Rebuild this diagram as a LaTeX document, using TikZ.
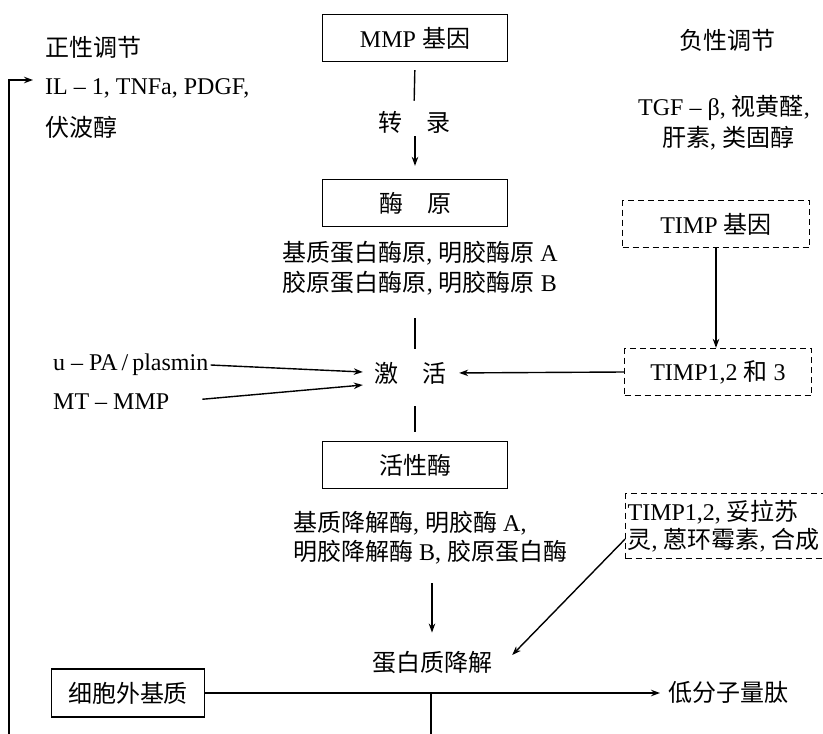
\documentclass[tikz,border=0pt]{standalone}
\usepackage{fontspec}
\setmainfont{Liberation Serif}
\newfontfamily\cjk{Noto Sans CJK SC}
\newcommand\zh[1]{{\cjk #1}}
\newcommand\dou{\makebox[.5em][l]{,}}
\usetikzlibrary{arrows.meta}
\tikzset{
 lbl/.style={font=\fontsize{24}{28}\selectfont, inner sep=2pt},
 mbox/.style={lbl, draw, line width=1.3pt, minimum width=185pt, minimum height=47pt, inner sep=0pt},
 dbox/.style={lbl, draw, line width=1.3pt, dash pattern=on 6pt off 4pt, minimum width=187pt, minimum height=47pt, inner sep=0pt},
 link/.style={line width=1.4pt}
}

\begin{document}
\begin{tikzpicture}[x=1pt,y=-1pt,>={Stealth[length=9pt,width=6.5pt]}]
\useasboundingbox (0,0) rectangle (823,734);

\node (zheng) [lbl, anchor=west] at (43,47) {\zh{正性调节}};
\node (zA) [lbl, anchor=west] at (43,88) {IL – 1, TNFa, PDGF,};
\node (zB) [lbl, anchor=west] at (43,127) {\zh{伏波醇}};

\node (fu) [lbl] at (727,40) {\zh{负性调节}};
\node (fA) [lbl] at (727,108) {TGF – β\dou\zh{视黄醛}\dou};
\node (fB) [lbl] at (728,138) {\zh{肝素}\dou\zh{类固醇}};

\node (mmp) [mbox] at (415,38) {MMP \zh{基因}};
\node (zl) [lbl] at (414,122) {\zh{转\hspace{1em}录}};
\node (yuan) [mbox] at (415,203) {\zh{酶\hspace{1em}原}};
\node (yA) [lbl] at (420,253) {\zh{基质蛋白酶原}\dou\zh{明胶酶原} A};
\node (yB) [lbl] at (420,283) {\zh{胶原蛋白酶原}\dou\zh{明胶酶原} B};

\node (jh) [lbl] at (410,373) {\zh{激\hspace{1em}活}};
\node (upa) [lbl, anchor=west] at (51,365) {u – PA\,/\,plasmin};
\node (mt) [lbl, anchor=west] at (51,402) {MT – MMP};

\node (tg) [dbox] at (716,224) {TIMP \zh{基因}};
\node (t123) [dbox] at (718,372) {TIMP1,2 \zh{和} 3};

\node (act) [mbox] at (415,465) {\zh{活性酶}};
\node (dA) [lbl, anchor=west] at (291,523) {\zh{基质降解酶}\dou\zh{明胶酶} A,};
\node (dB) [lbl, anchor=west] at (291,552) {\zh{明胶降解酶} B\dou\zh{胶原蛋白酶}};

\node (inh) [dbox, anchor=north west, minimum width=0pt, minimum height=65pt, text width=204pt, align=left, inner xsep=2pt] at (625,493) {TIMP1,2\dou\zh{妥拉苏}\\\zh{灵}\dou\zh{蒽环霉素}\dou\zh{合成}};

\node (dbj) [lbl] at (432,662) {\zh{蛋白质降解}};
\node (ecm) [mbox, minimum width=153pt, minimum height=48pt] at (128,693) {\zh{细胞外基质}};
\node (low) [lbl, anchor=west] at (666,692) {\zh{低分子量肽}};

\coordinate (lb) at (9,734);
\coordinate (bot) at (431,734);

\draw 
[link, shorten <=8pt, shorten >=8pt] 
(mmp.south) -- (zl.north);
\draw 
[link, ->, shorten <=1pt, shorten >=13pt] 
(zl.south -| mmp.south) -- (yuan.north);
\draw 
[link, shorten <=21pt, shorten >=11pt] 
(yB.south -| mmp.south) -- (jh.north -| mmp.south);
\draw 
[link, shorten <=20pt, shorten >=9pt] 
(jh.south -| act.north) -- (act.north);

\draw [link, ->] (tg.south) -- (tg.south |- t123.north);
\draw [link, ->, shorten >=11pt] (t123.west) -- (jh.east);
\draw [link, ->] (upa.east) -- ([xshift=-9pt,yshift=1pt]jh.west);
\draw [link, ->, shorten <=31pt] (mt.east) -- ([xshift=-9pt,yshift=-12pt]jh.west);

\draw 
[link, ->, shorten <=17pt, shorten >=16pt] 
(dB.south -| dbj.north) -- (dbj.north);
\draw [link, ->] ([yshift=-13pt]inh.west) -- ([xshift=18pt,yshift=7pt]dbj.east);

\draw [link, ->, shorten >=6pt] (ecm.east) -- (ecm.east -| low.west);
\draw [link] (ecm.east -| bot) -- (bot);
\draw [link, ->, shorten >=10pt] (lb) |- ([yshift=8pt]zA.west);

\end{tikzpicture}
\end{document}
